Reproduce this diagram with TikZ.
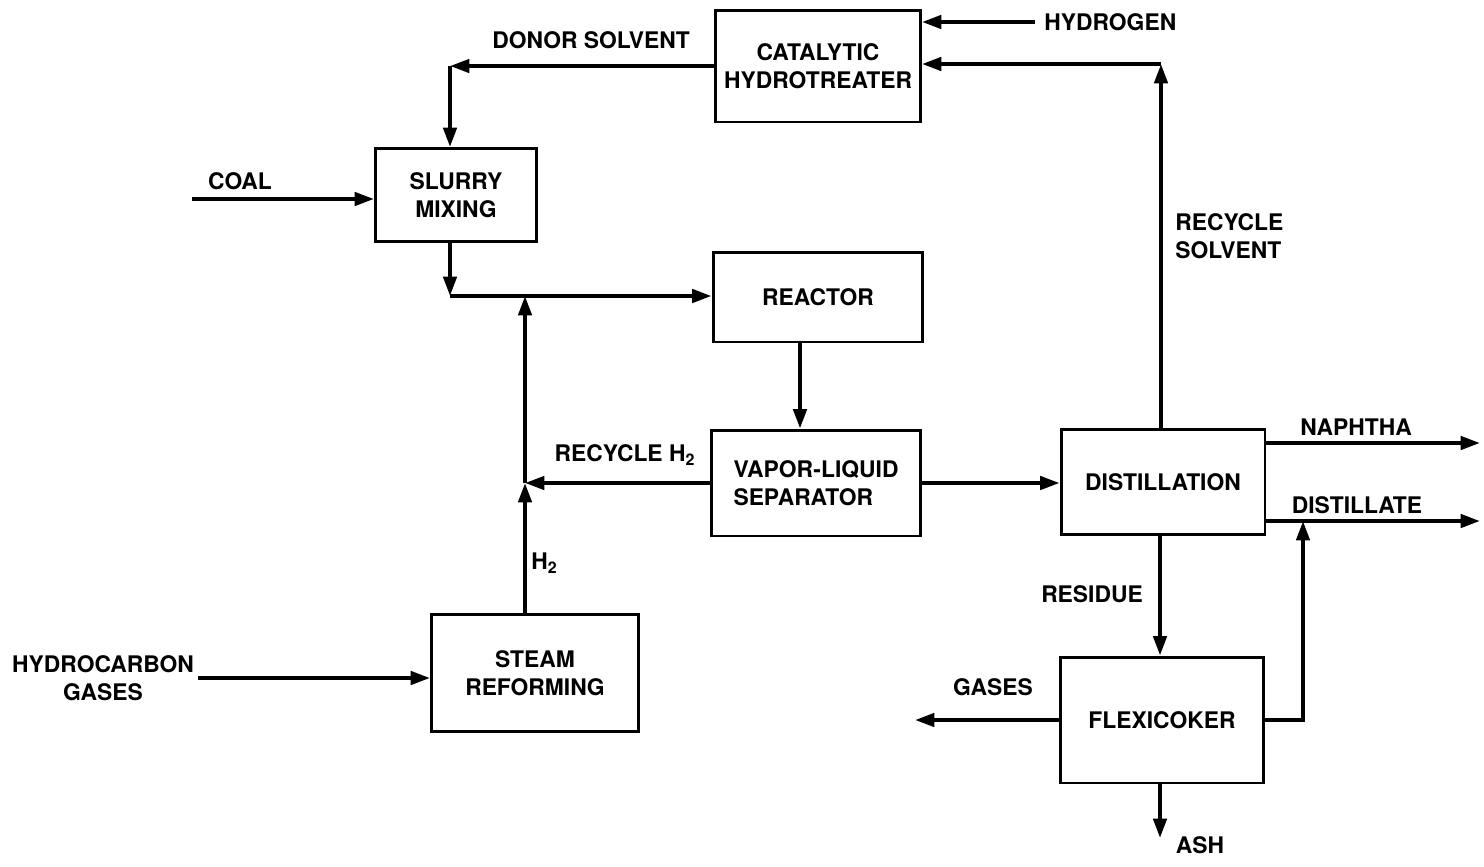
\documentclass[tikz,border=0pt]{standalone}
\usepackage{fontspec}
\setmainfont{TeX Gyre Heros}
\usetikzlibrary{arrows.meta, positioning}

\begin{document}
\begin{tikzpicture}[
  x=0.02cm, y=-0.02cm,
  every node/.style={font=\fontsize{13}{16}\selectfont\bfseries},
  unit/.style={draw, line width=1.7pt, align=center, inner sep=2pt},
  flow/.style={line width=2.2pt, -{Triangle[length=11pt, width=7.5pt]}},
  lbl/.style={align=left, inner sep=0pt},
]
\useasboundingbox (0,0) rectangle (1484,866);

% process units
\node[unit, minimum width=4.1cm,  minimum height=2.24cm] (hydro)   at (818,66)  {CATALYTIC\\HYDROTREATER};
\node[unit, minimum width=3.22cm, minimum height=1.86cm] (slurry)  at (456,195) {SLURRY\\MIXING};
\node[unit, minimum width=4.2cm,  minimum height=1.8cm]  (reactor) at (818,297) {REACTOR};
\node[unit, minimum width=4.2cm,  minimum height=2.12cm, align=left] (sep) at (816,483) {VAPOR-LIQUID\\SEPARATOR};
\node[unit, minimum width=4.08cm, minimum height=2.1cm]  (dist)    at (1163,482) {DISTILLATION};
\node[unit, minimum width=4.14cm, minimum height=2.34cm] (steam)   at (535,673) {STEAM\\REFORMING};
\node[unit, minimum width=4.06cm, minimum height=2.52cm] (flexi)   at (1162,720) {FLEXICOKER};

% free ends and corners
\coordinate (hydIn)    at (1035,22);
\coordinate (rsTop)    at (1161,64);
\coordinate (dsCorner) at (450,66);
\coordinate (coalIn)   at (192,199);
\coordinate (mixPt)    at (450,296);
\coordinate (h2Top)    at (525,296);
\coordinate (h2Mid)    at (525,483);
\coordinate (rxOut)    at (800,342);
\coordinate (naphOut)  at (1480,443);
\coordinate (distOut)  at (1480,521);
\coordinate (fxTurn)   at (1303,720);
\coordinate (gasOut)   at (915,720);
\coordinate (ashOut)   at (1160,838);
\coordinate (hcIn)     at (198,678);

% streams
\draw[flow] (hydIn) -- (hydIn -| hydro.east);
\draw[flow] (rsTop |- dist.north) -- (rsTop);
\draw[flow] (rsTop) -- (rsTop -| hydro.east);
\draw[flow] (hydro.west) -- (dsCorner);
\draw[flow] (dsCorner) -- (dsCorner |- slurry.north);
\draw[flow] (coalIn) -- (coalIn -| slurry.west);
\draw[flow] (mixPt |- slurry.south) -- (mixPt);
\draw[flow] (mixPt) -- (mixPt -| reactor.west);
\draw[flow] (h2Top |- steam.north) -- (h2Mid);
\draw[flow] (h2Mid) -- (h2Top);
\draw[flow] (sep.west) -- (h2Mid);
\draw[flow] (rxOut |- reactor.south) -- (rxOut |- sep.north);
\draw[flow] (sep.east) -- (sep.east -| dist.west);
\draw[flow] (naphOut -| dist.east) -- (naphOut);
\draw[flow] (distOut -| dist.east) -- (distOut);
\draw[flow] (flexi.east) -- (fxTurn) -- (fxTurn |- distOut);
\draw[flow] (ashOut |- dist.south) -- (ashOut |- flexi.north);
\draw[flow] (flexi.west) -- (gasOut);
\draw[flow] (ashOut |- flexi.south) -- (ashOut);
\draw[flow] (hcIn) -- (hcIn -| steam.west);

% stream labels
\node[lbl, anchor=west] (lHyd)   at (1044,22)  {HYDROGEN};
\node[lbl]              (lDonor) at (591,40)   {DONOR SOLVENT};
\node[lbl]              (lCoal)  at (240,181)  {COAL};
\node[lbl, anchor=west] (lRecS)  at (1175,236) {RECYCLE\\SOLVENT};
\node[lbl]              (lRecH)  at (625,455)  {RECYCLE H\textsubscript{2}};
\node[lbl, anchor=west] (lH2)    at (531,563)  {H\textsubscript{2}};
\node[lbl]              (lNaph)  at (1356,427) {NAPHTHA};
\node[lbl]              (lDist)  at (1357,505) {DISTILLATE};
\node[lbl]              (lRes)   at (1092,594) {RESIDUE};
\node[lbl]              (lGas)   at (993,687)  {GASES};
\node[lbl]              (lAsh)   at (1200,845) {ASH};
\node[lbl, align=center] (lHC)   at (103,678)  {HYDROCARBON\\GASES};

\end{tikzpicture}
\end{document}
